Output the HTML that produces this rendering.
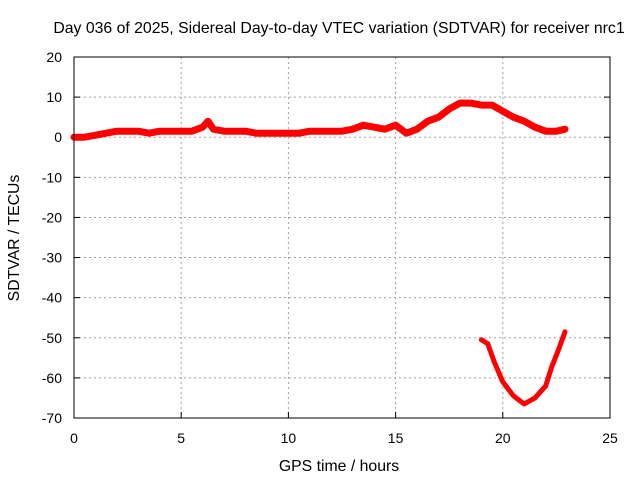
<!DOCTYPE html>
<html><head><meta charset="utf-8"><style>
body{margin:0;background:#fff}
svg{font-family:"Liberation Sans",sans-serif;font-size:14px}
</style></head><body>
<svg width="640" height="480">
<rect width="640" height="480" fill="#fff"/>
<text x="339" y="33" text-anchor="middle" font-size="15.8">Day 036 of 2025, Sidereal Day-to-day VTEC variation (SDTVAR) for receiver nrc1</text>
<g id="grid"></g>
<g id="axes"></g>
<g id="series"></g>
<text x="339" y="471" text-anchor="middle" font-size="15.8">GPS time / hours</text>
<text transform="translate(19,238) rotate(-90)" text-anchor="middle" font-size="15.8">SDTVAR / TECUs</text>
<rect x="74" y="57" width="536" height="361" fill="none" stroke="#000"/>
</svg>
<script>
const xTicks=[0,5,10,15,20,25];
const yTicks=[20,10,0,-10,-20,-30,-40,-50,-60,-70];
const mainHours=[0,0.5,1,1.5,2,2.5,3,3.5,4,4.5,5,5.5,6,6.25,6.5,7,7.5,8,8.5,9,9.5,10,10.5,11,11.5,12,12.5,13,13.5,14,14.5,15,15.5,16,16.5,17,17.5,18,18.5,19,19.5,20,20.5,21,21.5,22,22.5,22.9];
const mainValues=[0,0,0.5,1,1.5,1.5,1.5,1,1.5,1.5,1.5,1.5,2.5,4,2,1.5,1.5,1.5,1,1,1,1,1,1.5,1.5,1.5,1.5,2,3,2.5,2,3,1,2,4,5,7,8.5,8.5,8,8,6.5,5,4,2.5,1.5,1.5,2];
const lowHours=[19,19.3,19.6,20,20.5,21,21.5,22,22.3,22.6,22.9];
const lowValues=[-50.5,-51.5,-56,-61,-64.5,-66.5,-65,-62,-57,-53,-48.5];
const NS="http://www.w3.org/2000/svg";
const X=h=>74+h*(536/25);
const Y=v=>57+(20-v)*(361/90);
function mk(t,a,p){const e=document.createElementNS(NS,t);for(const k in a)e.setAttribute(k,a[k]);p.appendChild(e);return e;}
const grid=document.getElementById('grid'),axes=document.getElementById('axes'),ser=document.getElementById('series');
xTicks.forEach(t=>{
 if(t>0&&t<25){const l=mk('line',{x1:X(t),x2:X(t),y1:57,y2:418,stroke:'#a0a0a0','stroke-dasharray':'2,3'},grid);
 
 }
 mk('line',{x1:X(t),x2:X(t),y1:418,y2:412,stroke:'#000'},axes);
 const tx=mk('text',{x:X(t),y:443,'text-anchor':'middle'},axes);tx.textContent=t;
 
 
});
yTicks.forEach(t=>{
 if(t<20&&t>-70){const l=mk('line',{x1:74,x2:610,y1:Y(t),y2:Y(t),stroke:'#a0a0a0','stroke-dasharray':'2,3'},grid);
 
 }
 mk('line',{x1:74,x2:80,y1:Y(t),y2:Y(t),stroke:'#000'},axes);
 mk('line',{x1:604,x2:610,y1:Y(t),y2:Y(t),stroke:'#000'},axes);
 const tx=mk('text',{x:62,y:Y(t)+5,'text-anchor':'end'},axes);tx.textContent=t;
 
 
});
function pts(hs,vs){return hs.map((h,i)=>X(h).toFixed(1)+','+Y(vs[i]).toFixed(1)).join(' ');}
const m=mk('polyline',{points:pts(mainHours,mainValues),fill:'none',stroke:'#ff0000','stroke-width':7,'stroke-linejoin':'round','stroke-linecap':'round'},ser);


const lo=mk('polyline',{points:pts(lowHours,lowValues),fill:'none',stroke:'#ff0000','stroke-width':5,'stroke-linejoin':'round','stroke-linecap':'round'},ser);


</script>
</body></html>
